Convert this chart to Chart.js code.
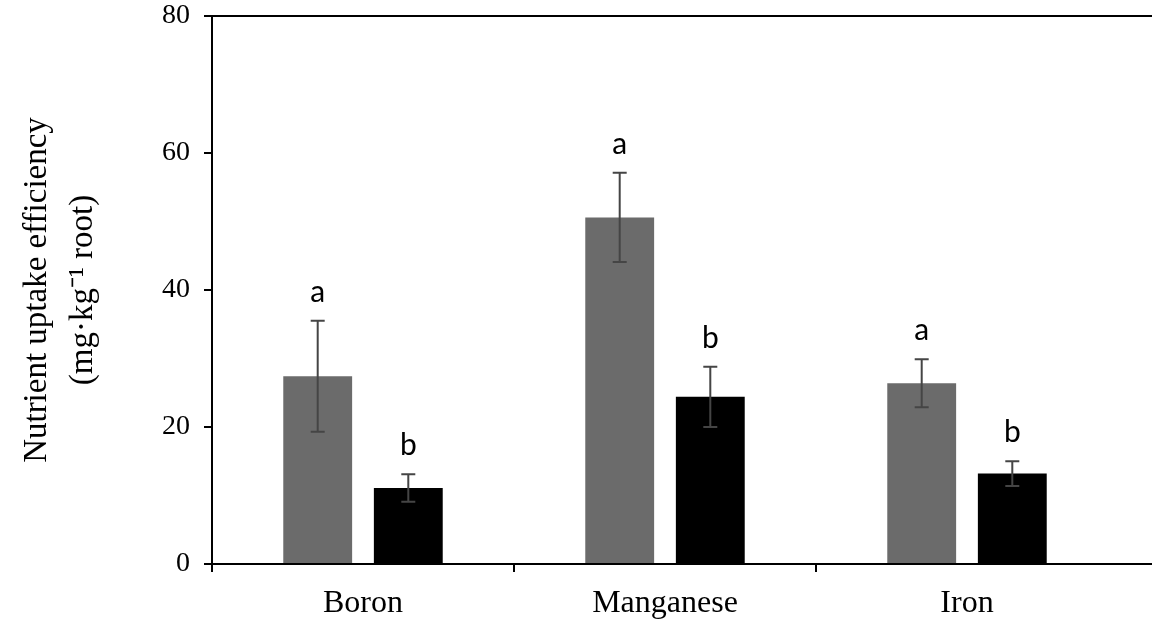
<!DOCTYPE html>
<html>
<head>
<meta charset="utf-8">
<script src="https://cdn.jsdelivr.net/npm/chart.js@4.4.1/dist/chart.umd.min.js"></script>
<style>
  html, body { margin: 0; padding: 0; background: #fff; }
  #wrap { width: 1152px; height: 620px; }
</style>
</head>
<body>
<div id="wrap"><canvas id="chart" width="1152" height="620"></canvas></div>
<script>
const categories = ['Boron', 'Manganese', 'Iron'];
const grayValues = [27.4, 50.6, 26.4];
const grayErrors = [8.1, 6.5, 3.5];
const blackValues = [11.1, 24.4, 13.2];
const blackErrors = [2.0, 4.4, 1.8];
const grayLetters = ['a', 'a', 'a'];
const blackLetters = ['b', 'b', 'b'];
const yTicks = [0, 20, 40, 60, 80];

const errors = [grayErrors, blackErrors];
const letters = [grayLetters, blackLetters];

// error bars, significance letters, and the frame lines that run to the right edge
const extras = {
  id: 'extras',
  afterDatasetsDraw(chart) {
    const ctx = chart.ctx;
    const y = chart.scales.y;
    const area = chart.chartArea;
    ctx.save();
    chart.data.datasets.forEach((ds, i) => {
      const meta = chart.getDatasetMeta(i);
      meta.data.forEach((bar, j) => {
        const v = ds.data[j];
        const e = errors[i][j];
        const top = y.getPixelForValue(v + e);
        const bot = y.getPixelForValue(v - e);
        ctx.strokeStyle = '#454545';
        ctx.lineWidth = 2;
        ctx.beginPath();
        ctx.moveTo(bar.x, top); ctx.lineTo(bar.x, bot);
        ctx.moveTo(bar.x - 7, top); ctx.lineTo(bar.x + 7, top);
        ctx.moveTo(bar.x - 7, bot); ctx.lineTo(bar.x + 7, bot);
        ctx.stroke();
        ctx.fillStyle = '#000';
        ctx.font = '30px Lato, "Open Sans", sans-serif';
        ctx.textAlign = 'center';
        ctx.textBaseline = 'alphabetic';
        ctx.fillText(letters[i][j], bar.x, top - 19);
      });
    });
    ctx.strokeStyle = '#000';
    ctx.lineWidth = 2;
    ctx.beginPath();
    ctx.moveTo(area.left, area.top); ctx.lineTo(chart.width, area.top);
    ctx.moveTo(area.right, area.bottom); ctx.lineTo(chart.width, area.bottom);
    ctx.stroke();
    ctx.restore();
  }
};

new Chart(document.getElementById('chart'), {
  type: 'bar',
  data: {
    labels: categories,
    datasets: [
      {
        label: 'Gray',
        data: grayValues,
        backgroundColor: '#6b6b6b',
        barPercentage: 0.76,
        categoryPercentage: 0.6
      },
      {
        label: 'Black',
        data: blackValues,
        backgroundColor: '#000000',
        barPercentage: 0.76,
        categoryPercentage: 0.6
      }
    ]
  },
  options: {
    responsive: false,
    animation: false,
    layout: { padding: { top: 16, right: 34, left: 0, bottom: 0 } },
    plugins: {
      legend: { display: false },
      tooltip: { enabled: false }
    },
    scales: {
      x: {
        grid: {
          drawOnChartArea: false,
          color: '#000',
          // no tick at the far right end of the axis
          tickColor: c => (c.tick ? '#000' : 'rgba(0,0,0,0)'),
          lineWidth: 2,
          tickLength: 8,
          offset: true
        },
        border: { color: '#000', width: 2 },
        ticks: {
          color: '#000',
          padding: 12,
          font: { family: '"Liberation Serif", "Times New Roman", serif', size: 32 }
        },
        afterFit(s) { s.height = 56; s.paddingLeft = 0; s.paddingRight = 0; }
      },
      y: {
        min: 0,
        max: 80,
        afterBuildTicks(s) { s.ticks = yTicks.map(v => ({ value: v })); },
        grid: {
          drawOnChartArea: false,
          color: '#000',
          lineWidth: 2,
          tickLength: 8
        },
        border: { color: '#000', width: 2 },
        ticks: {
          color: '#000',
          padding: 14,
          font: { family: '"Liberation Serif", "Times New Roman", serif', size: 28 }
        },
        title: {
          display: true,
          text: ['Nutrient uptake efficiency', '(mg\u00b7kg\u207b\u00b9 root)'],
          color: '#000',
          font: { family: '"Liberation Serif", "Times New Roman", serif', size: 33, lineHeight: 1.4 },
          padding: { top: 14, bottom: 0 }
        },
        afterFit(s) { s.width = 212; s.paddingTop = 0; s.paddingBottom = 0; }
      }
    }
  },
  plugins: [extras]
});
</script>
</body>
</html>
